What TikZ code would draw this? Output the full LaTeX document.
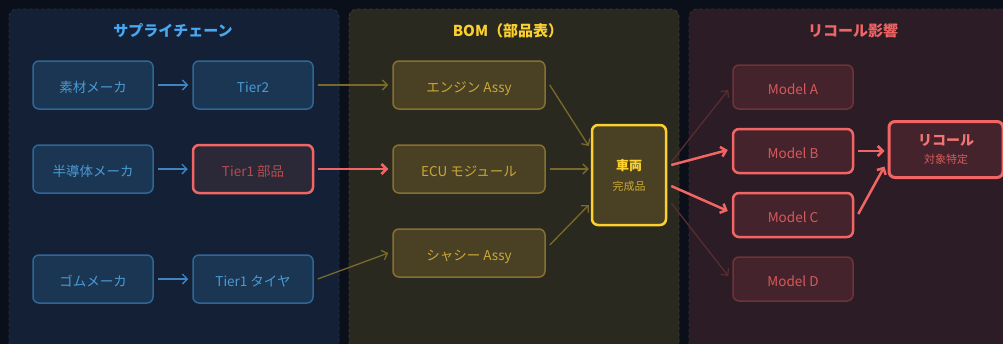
\documentclass[tikz,border=0pt]{standalone}
\usepackage{fontspec}
\setmainfont{Noto Sans CJK JP}
\usetikzlibrary{arrows.meta,calc}
\definecolor{bg}{HTML}{0B0F1A}
\definecolor{panA}{HTML}{132036}
\definecolor{panB}{HTML}{2A2920}
\definecolor{panC}{HTML}{2B1C25}
\definecolor{panAe}{HTML}{1E3350}
\definecolor{panBe}{HTML}{3C3A2C}
\definecolor{panCe}{HTML}{3E2A33}
\definecolor{bfill}{HTML}{1B3652}
\definecolor{bdraw}{HTML}{2E6796}
\definecolor{btext}{HTML}{4A9AD6}
\definecolor{btitle}{HTML}{4AA8F0}
\definecolor{yfill}{HTML}{4A4124}
\definecolor{ydraw}{HTML}{85712F}
\definecolor{ytext}{HTML}{C9A83A}
\definecolor{ybright}{HTML}{FCD02E}
\definecolor{rfill}{HTML}{45232C}
\definecolor{rdim}{HTML}{6F3339}
\definecolor{rbright}{HTML}{F26565}
\definecolor{rtext}{HTML}{D65A5A}
\definecolor{tfill}{HTML}{2B2838}
\definecolor{oarrow}{HTML}{7A6A2A}
\definecolor{barrow}{HTML}{3D85C0}
\definecolor{farrow}{HTML}{5A2C30}
\tikzset{
  x=1pt,y=-1pt,
  panel/.style={rounded corners=8pt,dashed,line width=0.8pt},
  ttl/.style={font=\fontsize{15}{17}\selectfont\bfseries},
  box/.style={draw,rounded corners=6pt,line width=1.5pt,minimum width=120pt,minimum height=48pt,inner sep=0pt,font=\fontsize{13.5}{15}\selectfont},
  low/.style={text height=15pt,text depth=0pt},
  bbox/.style={box,low,fill=bfill,draw=bdraw,text=btext},
  ybox/.style={box,low,fill=yfill,draw=ydraw,text=ytext,minimum width=152pt},
  rbox/.style={box,low,fill=rfill,draw=rdim,text=rtext,minimum height=44pt},
  hot/.style={draw=rbright,line width=2.5pt},
  arr/.style={-{Straight Barb[length=5pt,width=10pt]},line width=1.3pt},
  harr/.style={arr,rbright,line width=2.5pt},
}
\begin{document}
\begin{tikzpicture}
\useasboundingbox (0,0) rectangle (1003,343);
\fill[bg] (-10,-10) rectangle (1015,355);
\draw[panel,fill=panA,draw=panAe] (9,9) rectangle (339,360);
\draw[panel,fill=panB,draw=panBe] (349,9) rectangle (679,360);
\draw[panel,fill=panC,draw=panCe] (689,9) rectangle (1020,360);
\node[ttl,text=btitle] (t1) at (173,31) {サプライチェーン};
\node[ttl,text=ybright] (t2) at (508,31) {BOM（部品表）};
\node[ttl,text=rbright] (t3) at (853,31) {リコール影響};
% supply chain
\node[bbox] (raw) at (93,85) {素材メーカ};
\node[bbox] (tier2) at (253,85) {Tier2};
\node[bbox] (semi) at (93,169) {半導体メーカ};
\node[bbox,hot,fill=tfill,text=rtext!85!black] (tparts) at (253,169) {Tier1 部品};
\node[bbox] (rubber) at (93,279) {ゴムメーカ};
\node[bbox] (ttire) at (253,279) {Tier1 タイヤ};
% BOM
\node[ybox] (eng) at (469,85) {エンジン Assy};
\node[ybox] (ecu) at (469,169) {ECU モジュール};
\node[ybox] (chs) at (469,253) {シャシー Assy};
\node[box,fill=yfill,draw=ybright,line width=2.5pt,minimum width=74pt,minimum height=100pt,align=center] (car) at (629,175)
  {{\fontsize{13}{15}\selectfont\bfseries\textcolor{ybright}{車両}}\\[5pt]{\fontsize{11}{13}\selectfont\textcolor{ytext}{完成品}}};
% recall
\node[rbox] (ma) at (793,87) {Model A};
\node[rbox,hot] (mb) at (793,151) {Model B};
\node[rbox,hot] (mc) at (793,215) {Model C};
\node[rbox] (md) at (793,279) {Model D};
\node[box,fill=rfill,draw=rbright,line width=3pt,minimum width=114pt,minimum height=56pt,align=center] (rec) at (946,149.5)
  {{\fontsize{14}{16}\selectfont\bfseries\textcolor{rbright!90!white}{リコール}}\\[3pt]{\fontsize{11}{13}\selectfont\textcolor{rtext}{対象特定}}};
% arrows
\draw[arr,barrow] ($(raw.east)+(4,0)$) -- ($(tier2.west)+(-4,0)$);
\draw[arr,barrow] ($(semi.east)+(4,0)$) -- ($(tparts.west)+(-4,0)$);
\draw[arr,barrow] ($(rubber.east)+(4,0)$) -- ($(ttire.west)+(-4,0)$);
\draw[arr,oarrow] ($(tier2.east)+(4,0)$) -- ($(eng.west)+(-4,0)$);
\draw[harr] ($(tparts.east)+(4,0)$) -- ($(ecu.west)+(-4,0)$);
\draw[arr,oarrow] ($(ttire.east)+(4,0)$) -- ($(chs.west)+(-4,0)$);
\draw[arr,oarrow] ($(eng.east)+(4,0)$) -- ($(car.west)+(-2,-29)$);
\draw[arr,oarrow] ($(ecu.east)+(4,0)$) -- ($(car.west)+(-2,-6)$);
\draw[arr,oarrow] ($(chs.east)+(4,-8)$) -- ($(car.west)+(-2,30)$);
\draw[arr,farrow] ($(car.east)+(4,-13)$) -- ($(ma.west)+(-4,3)$);
\draw[harr] ($(car.east)+(4,-10)$) -- ($(mb.west)+(-4,-1)$);
\draw[harr] ($(car.east)+(4,11)$) -- ($(mc.west)+(-4,-4)$);
\draw[arr,farrow] ($(car.east)+(4,28)$) -- ($(md.west)+(-4,-3)$);
\draw[harr] ($(mb.east)+(4,0)$) -- ($(rec.west)+(-3,1.5)$);
\draw[harr] ($(mc.east)+(4,-1)$) -- ($(rec.west)+(-3,17)$);
\end{tikzpicture}
\end{document}
